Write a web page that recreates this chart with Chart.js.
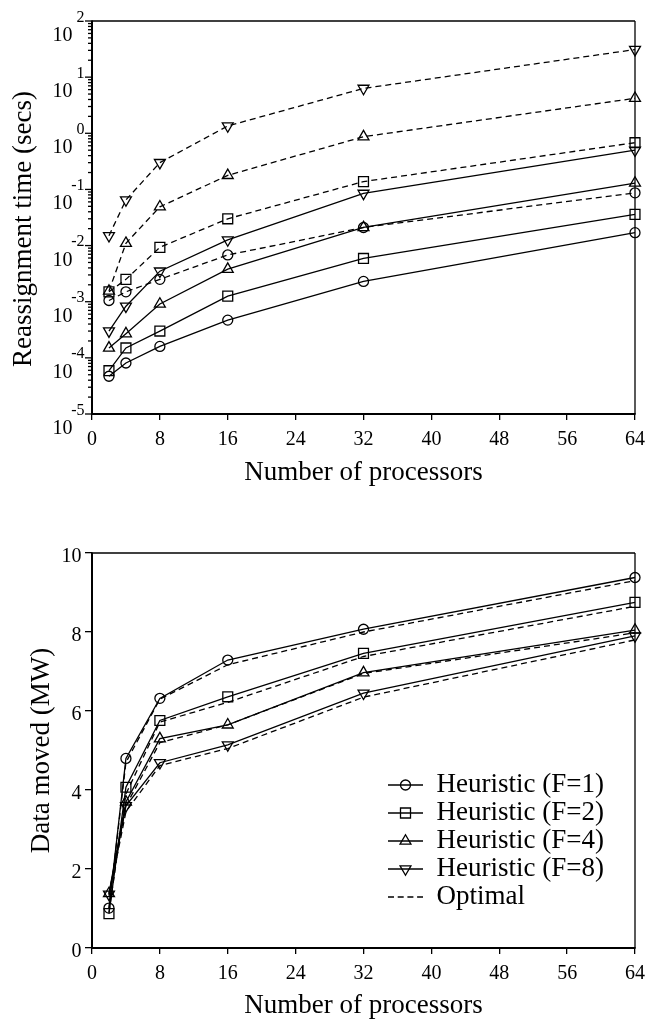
<!DOCTYPE html>
<html>
<head>
<meta charset="utf-8">
<script src="https://cdn.jsdelivr.net/npm/chart.js@4.4.1/dist/chart.umd.min.js"></script>
<style>
html, body { margin: 0; padding: 0; background: #fff; }
#wrap { position: relative; width: 647px; height: 1021px; }
canvas { position: absolute; left: 0; }
#grafico1 { top: 0; }
#grafico2 { top: 500px; }
</style>
</head>
<body>
<div id="wrap">
  <canvas id="grafico1" width="647" height="500"></canvas>
  <canvas id="grafico2" width="647" height="521"></canvas>
</div>
<script>
// datos
const procesadores = [2, 4, 8, 16, 32, 64];
const exponentes = [-5, -4, -3, -2, -1, 0, 1, 2];
const etiquetas = ['Heuristic (F=1)', 'Heuristic (F=2)', 'Heuristic (F=4)', 'Heuristic (F=8)', 'Optimal'];

// tiempo de reasignacion (segundos)
const tiempoHeurF1 = [4.7e-5, 8.1e-5, 1.6e-4, 4.7e-4, 2.3e-3, 1.7e-2];
const tiempoHeurF2 = [5.9e-5, 1.5e-4, 3.0e-4, 1.26e-3, 5.9e-3, 3.6e-2];
const tiempoHeurF4 = [1.5e-4, 2.7e-4, 9.1e-4, 3.8e-3, 2.1e-2, 0.13];
const tiempoHeurF8 = [3.0e-4, 8.3e-4, 3.5e-3, 1.26e-2, 8.5e-2, 0.50];
const tiempoOptF1 = [1.05e-3, 1.5e-3, 2.5e-3, 6.8e-3, 2.1e-2, 8.7e-2];
const tiempoOptF2 = [1.5e-3, 2.5e-3, 9.3e-3, 3.0e-2, 0.138, 0.68];
const tiempoOptF4 = [1.55e-3, 1.1e-2, 4.9e-2, 0.178, 0.87, 4.2];
const tiempoOptF8 = [1.5e-2, 6.5e-2, 0.30, 1.35, 6.3, 31];

// datos movidos (MW)
const datosHeurF1 = [1.01, 4.80, 6.32, 7.29, 8.07, 9.38];
const datosHeurF2 = [0.87, 4.07, 5.76, 6.36, 7.46, 8.75];
const datosHeurF4 = [1.38, 3.70, 5.30, 5.65, 6.97, 8.05];
const datosHeurF8 = [1.36, 3.60, 4.69, 5.14, 6.45, 7.90];
const datosOptF1 = [1.00, 4.70, 6.30, 7.17, 8.00, 9.30];
const datosOptF2 = [0.90, 3.90, 5.72, 6.22, 7.38, 8.65];
const datosOptF4 = [1.35, 3.60, 5.20, 5.65, 6.95, 7.98];
const datosOptF8 = [1.30, 3.45, 4.62, 5.05, 6.35, 7.80];

const FUENTE = '"Liberation Serif", "Times New Roman", serif';
Chart.defaults.font.family = FUENTE;
Chart.defaults.color = '#000';

const estilos = [
    { tipo: 'circle', radio: 5, giro: 0 },
    { tipo: 'rect', radio: 7, giro: 0 },
    { tipo: 'triangle', radio: 6.3, giro: 0 },
    { tipo: 'triangle', radio: 6.3, giro: 180 }
];

const serie = (valores, estilo, punteada, conMarcador) => ({
    data: procesadores.map((p, i) => ({ x: p, y: valores[i] })),
    borderColor: '#000',
    borderWidth: 1.3,
    borderDash: punteada ? [6, 4] : [],
    pointStyle: estilo.tipo,
    pointRotation: estilo.giro,
    pointRadius: conMarcador ? estilo.radio : 0,
    pointBorderColor: '#000',
    pointBackgroundColor: 'rgba(0,0,0,0)',
    pointBorderWidth: 1.3,
    fill: false,
    tension: 0,
    clip: false
});

const linea = (ctx, x1, y1, x2, y2) => {
    ctx.beginPath();
    ctx.moveTo(x1, y1);
    ctx.lineTo(x2, y2);
    ctx.stroke();
};

// marco del area de dibujo
const marco = {
    id: 'marco',
    afterDraw(chart) {
        const { ctx, chartArea: a } = chart;
        ctx.save();
        ctx.strokeStyle = '#000';
        ctx.lineWidth = 1.3;
        linea(ctx, a.left, a.top, a.right, a.top);
        linea(ctx, a.right, a.top, a.right, a.bottom);
        ctx.lineWidth = 2;
        linea(ctx, a.left, a.top - 0.6, a.left, a.bottom + 1);
        linea(ctx, a.left - 1, a.bottom, a.right + 0.6, a.bottom);
        ctx.restore();
    }
};

// eje logaritmico con etiquetas 10^n
const ejeLog = {
    id: 'ejeLog',
    afterDraw(chart) {
        const { ctx, chartArea: a } = chart;
        const y = chart.scales.y;
        ctx.save();
        ctx.strokeStyle = '#000';
        ctx.fillStyle = '#000';
        ctx.lineWidth = 1.3;
        exponentes.forEach((e, i) => {
            const py = y.getPixelForValue(Math.pow(10, e));
            linea(ctx, a.left - 7, py, a.left, py);
            if (i < exponentes.length - 1) {
                for (let k = 2; k <= 9; k++) {
                    const pm = y.getPixelForValue(k * Math.pow(10, e));
                    linea(ctx, a.left - 4, pm, a.left, pm);
                }
            }
            ctx.textAlign = 'right';
            ctx.textBaseline = 'alphabetic';
            ctx.font = '20px ' + FUENTE;
            ctx.fillText('10', 72.5, py + 20);
            ctx.font = '16px ' + FUENTE;
            ctx.fillText(String(e), 84.5, py + 0.5);
        });
        ctx.translate(24, 229);
        ctx.rotate(-Math.PI / 2);
        ctx.textAlign = 'center';
        ctx.textBaseline = 'middle';
        ctx.font = '27px ' + FUENTE;
        ctx.fillText('Reassignment time (secs)', 0, 0);
        ctx.restore();
    }
};

const marcador = (ctx, estilo, x, y) => {
    ctx.beginPath();
    if (estilo.tipo === 'circle') {
        ctx.arc(x, y, 5, 0, 2 * Math.PI);
    } else if (estilo.tipo === 'rect') {
        ctx.rect(x - 5, y - 5, 10, 10);
    } else {
        const s = estilo.giro ? -1 : 1;
        const r = 6.3;
        ctx.moveTo(x, y - s * r);
        ctx.lineTo(x + r * 0.866, y + s * r * 0.5);
        ctx.lineTo(x - r * 0.866, y + s * r * 0.5);
        ctx.closePath();
    }
    ctx.stroke();
};

// leyenda dentro del grafico
const leyenda = {
    id: 'leyenda',
    afterDraw(chart) {
        const ctx = chart.ctx;
        ctx.save();
        ctx.strokeStyle = '#000';
        ctx.fillStyle = '#000';
        ctx.lineWidth = 1.3;
        ctx.font = '27px ' + FUENTE;
        ctx.textAlign = 'left';
        ctx.textBaseline = 'middle';
        etiquetas.forEach((txt, i) => {
            const fy = 285 + i * 28;
            if (i < 4) {
                linea(ctx, 388, fy, 423, fy);
                marcador(ctx, estilos[i], 405.5, fy);
            } else {
                ctx.setLineDash([6, 3.7]);
                linea(ctx, 388, fy, 423, fy);
                ctx.setLineDash([]);
            }
            ctx.fillText(txt, 436.5, fy - 0.5);
        });
        ctx.restore();
    }
};

const ejeX = (alto, relleno) => ({
    type: 'linear',
    min: 0,
    max: 64,
    // alto fijo y sin relleno extra a la derecha
    afterFit: (s) => { s.height = alto; s.paddingRight = 0; s.paddingLeft = 0; },
    border: { display: false },
    grid: { drawOnChartArea: false, drawTicks: true, tickLength: 6, color: '#000', lineWidth: 1.3 },
    ticks: { stepSize: 8, font: { size: 20 }, padding: 8, maxRotation: 0, autoSkip: false },
    title: {
        display: true,
        text: 'Number of processors',
        font: { size: 27, lineHeight: 1 },
        padding: { top: 0, bottom: relleno }
    }
});

// Grafico 1: tiempo de reasignacion (log)
new Chart(document.getElementById('grafico1').getContext('2d'), {
    type: 'line',
    data: {
        datasets: [
            serie(tiempoOptF8, estilos[3], true, true),
            serie(tiempoOptF4, estilos[2], true, true),
            serie(tiempoOptF2, estilos[1], true, true),
            serie(tiempoOptF1, estilos[0], true, true),
            serie(tiempoHeurF8, estilos[3], false, true),
            serie(tiempoHeurF4, estilos[2], false, true),
            serie(tiempoHeurF2, estilos[1], false, true),
            serie(tiempoHeurF1, estilos[0], false, true)
        ]
    },
    options: {
        responsive: false,
        animation: false,
        layout: { padding: { top: 21, right: 12, left: 0, bottom: 0 } },
        plugins: { legend: { display: false }, tooltip: { enabled: false } },
        scales: {
            x: ejeX(86, 14),
            y: {
                type: 'logarithmic',
                min: 1e-5,
                max: 1e2,
                afterFit: (s) => { s.width = 92; s.paddingTop = 0; s.paddingBottom = 0; },
                border: { display: false },
                grid: { display: false },
                ticks: { display: false }
            }
        }
    },
    plugins: [marco, ejeLog]
});

// Grafico 2: datos movidos
new Chart(document.getElementById('grafico2').getContext('2d'), {
    type: 'line',
    data: {
        datasets: [
            serie(datosOptF1, estilos[0], true, false),
            serie(datosOptF2, estilos[1], true, false),
            serie(datosOptF4, estilos[2], true, false),
            serie(datosOptF8, estilos[3], true, false),
            serie(datosHeurF1, estilos[0], false, true),
            serie(datosHeurF2, estilos[1], false, true),
            serie(datosHeurF4, estilos[2], false, true),
            serie(datosHeurF8, estilos[3], false, true)
        ]
    },
    options: {
        responsive: false,
        animation: false,
        layout: { padding: { top: 53, right: 12, left: 0, bottom: 0 } },
        plugins: { legend: { display: false }, tooltip: { enabled: false } },
        scales: {
            x: ejeX(73, 1.5),
            y: {
                type: 'linear',
                min: 0,
                max: 10,
                afterFit: (s) => { s.width = 92; s.paddingTop = 0; s.paddingBottom = 0; },
                border: { display: false },
                grid: { drawOnChartArea: false, drawTicks: true, tickLength: 7, color: '#000', lineWidth: 1.3 },
                ticks: { stepSize: 2, font: { size: 20 }, padding: 3.5, labelOffset: 4 },
                title: {
                    display: true,
                    text: 'Data moved (MW)',
                    font: { size: 27, lineHeight: 1 },
                    padding: { top: 28.5, bottom: 0 }
                }
            }
        }
    },
    plugins: [marco, leyenda]
});
</script>
</body>
</html>
